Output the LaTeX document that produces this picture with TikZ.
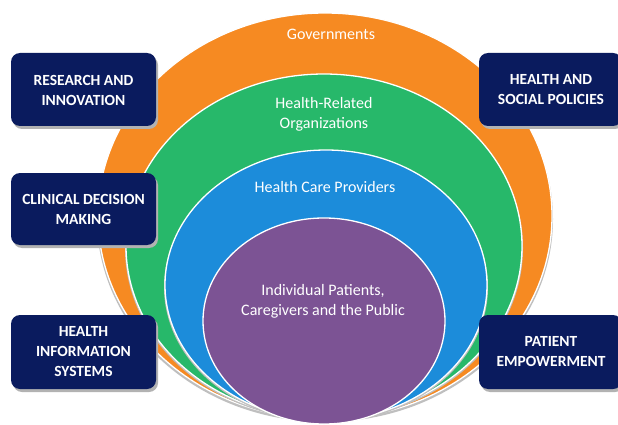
\documentclass[tikz,border=0pt]{standalone}
\usepackage{fontspec}
\setmainfont{Carlito}
\definecolor{cOrange}{HTML}{F68A22}
\definecolor{cGreen}{HTML}{27B86A}
\definecolor{cBlue}{HTML}{1C8CDA}
\definecolor{cPurple}{HTML}{7C5394}
\definecolor{cNavy}{HTML}{0A1B5E}
\begin{document}
\begin{tikzpicture}[x=1pt,y=-1pt,
  ring/.style={draw=white,line width=1.3pt},
  shade/.style={fill=black!25},
  lbl/.style={text=white,font=\fontsize{16}{20}\selectfont,align=center},
  boxtxt/.style={text=white,font=\bfseries\fontsize{15.5}{20}\selectfont,align=center},
  navybox/.style={fill=cNavy,rounded corners=9pt}]
\useasboundingbox (0,0) rectangle (618,425);
\fill[white] (0,0) rectangle (618,425);
% rings
\fill[shade] (325,219) ellipse [x radius=228,y radius=203];
\fill[ring,fill=cOrange] (325,216) ellipse [x radius=227,y radius=203];
\fill[shade] (324,248) ellipse [x radius=199,y radius=172];
\fill[ring,fill=cGreen] (324,246) ellipse [x radius=198,y radius=172];
\fill[shade] (326,287) ellipse [x radius=162,y radius=135];
\fill[ring,fill=cBlue] (326,285) ellipse [x radius=161,y radius=135];
\fill[ring,fill=cPurple] (324,321) ellipse [x radius=121,y radius=103];
% ring labels
\node[lbl] (gov) at (331,34) {Governments};
\node[lbl] (org) at (324,114) {Health-Related\\Organizations};
\node[lbl] (hcp) at (325,187) {Health Care Providers};
\node[lbl] (ind) at (323,301) {Individual Patients,\\Caregivers and the Public};
% boxes with shadows
\foreach \a/\b/\c/\d in {11/53/156/126, 479/53/622/126, 11/173/156/245, 11/315/156/389, 479/315/622/389}{
  \fill[black!30,rounded corners=9pt] (\a+2,\b+3) rectangle (\c+2,\d+3);
  \fill[navybox] (\a,\b) rectangle (\c,\d);
}
\node[boxtxt] (res) at (83.5,90) {RESEARCH AND\\INNOVATION};
\node[boxtxt] (pol) at (551,90) {HEALTH AND\\SOCIAL POLICIES};
\node[boxtxt] (cdm) at (83.5,209) {CLINICAL DECISION\\MAKING};
\node[boxtxt] (his) at (83.5,352) {HEALTH\\INFORMATION\\SYSTEMS};
\node[boxtxt] (emp) at (551,352) {PATIENT\\EMPOWERMENT};
\end{tikzpicture}
\end{document}
